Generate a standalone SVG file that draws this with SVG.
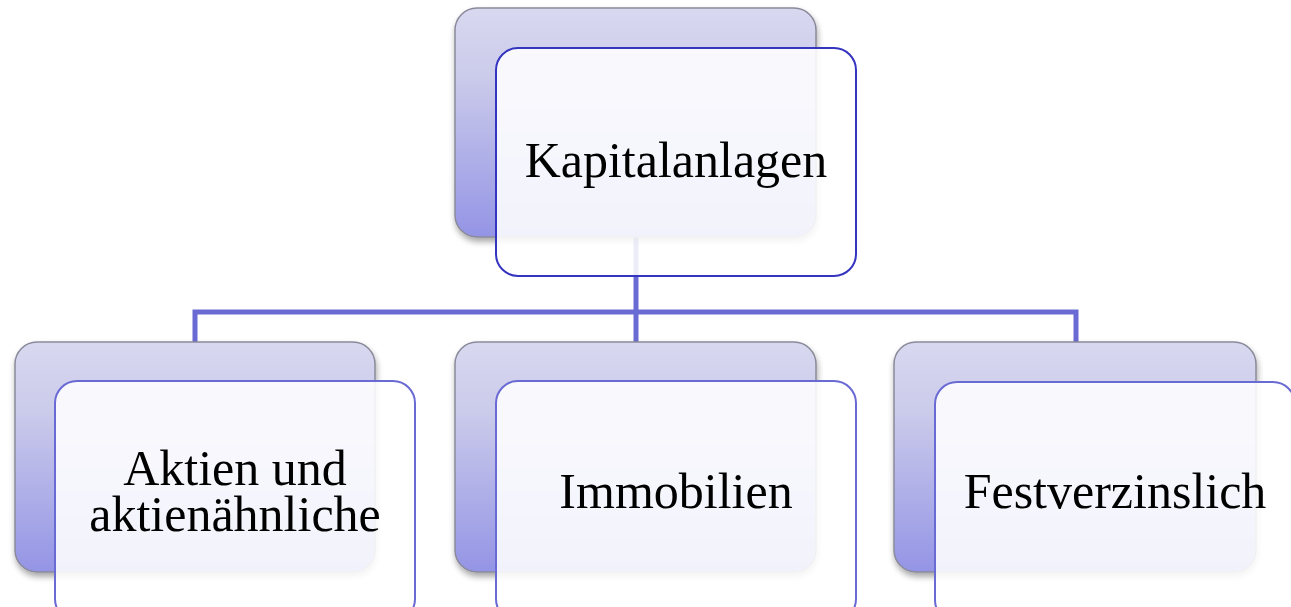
<svg xmlns="http://www.w3.org/2000/svg" width="1291" height="607" viewBox="0 0 1291 607">
<defs>
<linearGradient id="bg" x1="0" y1="0" x2="0" y2="1">
<stop offset="0" stop-color="#d8d8f0"/>
<stop offset="0.3" stop-color="#cbcbeb"/>
<stop offset="1" stop-color="#9494e6"/>
</linearGradient>
<filter id="sh" x="-10%" y="-10%" width="120%" height="125%">
<feGaussianBlur in="SourceAlpha" stdDeviation="3"/>
<feOffset dx="1" dy="4"/>
<feComponentTransfer><feFuncA type="linear" slope="0.35"/></feComponentTransfer>
<feMerge><feMergeNode/><feMergeNode in="SourceGraphic"/></feMerge>
</filter>
</defs>
<style>
.back{fill:url(#bg);stroke:#8a8a9a;stroke-width:1.5;filter:url(#sh)}
.front{fill:#ffffff;fill-opacity:0.88;stroke:#6a6ad4;stroke-width:2}
.top .front{stroke:#3434c0}
.conn{fill:none;stroke:#6a6ad4;stroke-width:5}
text{font-family:"Liberation Serif","Times New Roman",serif;font-size:50px;fill:#000;text-anchor:middle}
</style>
<rect width="1291" height="607" fill="#ffffff"/>
<g id="connectors">
<path class="conn" d="M636,237 V312"/>
<path class="conn" d="M195,342 V312 H1076 V342"/>
<path class="conn" d="M636,312 V342"/>
</g>
<g id="node-kapitalanlagen" class="top">
<rect class="back" x="455" y="8" width="361" height="229" rx="22"/>
<rect class="front" x="496" y="48" width="360" height="228" rx="22"/>
<text x="676" y="177">Kapitalanlagen</text>
</g>
<g id="node-aktien">
<rect class="back" x="15" y="342" width="360" height="230" rx="22"/>
<rect class="front" x="55" y="381" width="360" height="240" rx="22"/>
<text x="235" y="485">Aktien und</text>
<text x="235" y="531">aktienähnliche</text>
</g>
<g id="node-immobilien">
<rect class="back" x="455" y="342" width="361" height="230" rx="22"/>
<rect class="front" x="496" y="381" width="360" height="240" rx="22"/>
<text x="676" y="508">Immobilien</text>
</g>
<g id="node-festverzinslich">
<rect class="back" x="894" y="342" width="362" height="230" rx="22"/>
<rect class="front" x="935" y="382" width="360" height="240" rx="22"/>
<text x="1115" y="508">Festverzinslich</text>
</g>
</svg>
